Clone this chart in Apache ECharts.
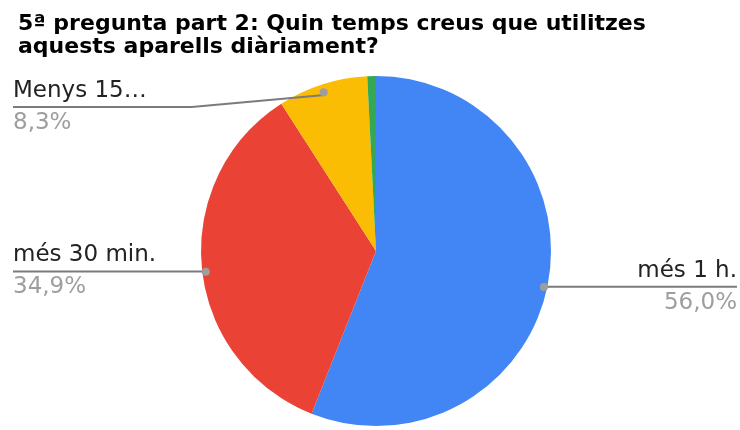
<!DOCTYPE html>
<html>
<head>
<meta charset="utf-8">
<script src="https://cdn.jsdelivr.net/npm/echarts@6/dist/echarts.min.js"></script>
<style>
  html, body { margin: 0; padding: 0; background: #fff; }
  #chart { width: 740px; height: 430px; }
</style>
</head>
<body>
<div id="chart"></div>
<script>
// dades
const categories = ['més 1 h.', 'més 30 min.', 'Menys 15…', 'Altres'];
const percents = [56.0, 34.9, 8.3, 0.8];
const colors = ['#4285f4', '#ea4335', '#fbbc04', '#34a853'];
const showLabel = [true, true, true, false];

const fmt = v => v.toFixed(1).replace('.', ',') + '%';
const FONT = 'DejaVu Sans';

const pieData = categories.map((name, i) => ({
  name: name,
  value: percents[i],
  itemStyle: { color: colors[i] }
}));

// serie invisible: porta les etiquetes i les línies
const labelData = categories.map((name, i) => ({
  name: name,
  value: percents[i],
  label: { show: showLabel[i], edgeDistance: i === 0 ? 3 : 13 },
  labelLine: { show: showLabel[i] }
}));

// serie invisible: els punts grisos
const dotData = categories.map((name, i) => ({
  name: name,
  value: percents[i],
  label: { show: showLabel[i] }
}));

const chart = echarts.init(document.getElementById('chart'));

const center = [376, 251];
const labelCenter = [376, 255];

// la línia passa per sota de tota l'etiqueta, entre el nom i el percentatge
function placeLabel(params) {
  const pts = params.labelLinePoints;
  const r = params.labelRect;
  if (!pts || !r) return;
  const isLeft = r.x + r.width / 2 < pts[0][0];
  let shift = 0;
  let elbow = null;
  if (params.dataIndex === 2) {
    shift = 13;
    elbow = isLeft ? r.x + r.width + 45 : r.x - 45;
  }
  const y = pts[2][1] + shift;
  const farX = isLeft ? r.x : r.x + r.width;
  const line = elbow === null
    ? [pts[0], [pts[1][0], y], [farX, y]]
    : [pts[0], [elbow, y], [farX, y]];
  return { dy: shift, labelLinePoints: line };
}

chart.setOption({
  animation: false,
  title: {
    text: '5ª pregunta part 2: Quin temps creus que utilitzes\naquests aparells diàriament?',
    left: 13,
    top: 8,
    textStyle: {
      fontFamily: FONT,
      fontSize: 22,
      fontWeight: 'bold',
      color: '#000',
      lineHeight: 23
    }
  },
  series: [
    {
      type: 'pie',
      z: 1,
      center: center,
      radius: 175,
      startAngle: 90,
      clockwise: true,
      silent: true,
      label: { show: false },
      labelLine: { show: false },
      itemStyle: { borderWidth: 0 },
      data: pieData
    },
    {
      type: 'pie',
      z: 3,
      center: labelCenter,
      radius: 168,
      startAngle: 90,
      silent: true,
      itemStyle: { color: 'rgba(0,0,0,0)' },
      label: {
        position: 'outside',
        alignTo: 'edge',
        formatter: p => '{n|' + p.name + '}\n{p|' + fmt(p.value) + '}',
        rich: {
          n: { fontFamily: FONT, fontSize: 23, color: '#222', lineHeight: 32 },
          p: { fontFamily: FONT, fontSize: 23, color: '#9e9e9e', lineHeight: 32 }
        }
      },
      labelLine: {
        length: 1,
        length2: 10,
        minTurnAngle: 0,
        maxSurfaceAngle: 180,
        lineStyle: { color: '#7b7b7b', width: 2 }
      },
      labelLayout: placeLabel,
      data: labelData
    },
    {
      type: 'pie',
      z: 4,
      center: labelCenter,
      radius: [160, 176],
      startAngle: 90,
      silent: true,
      itemStyle: { color: 'rgba(0,0,0,0)' },
      label: {
        position: 'inside',
        formatter: '{d|}',
        rich: {
          d: { width: 8, height: 8, borderRadius: 4, backgroundColor: '#9e9e9e' }
        }
      },
      labelLine: { show: false },
      data: dotData
    }
  ]
});
</script>
</body>
</html>
